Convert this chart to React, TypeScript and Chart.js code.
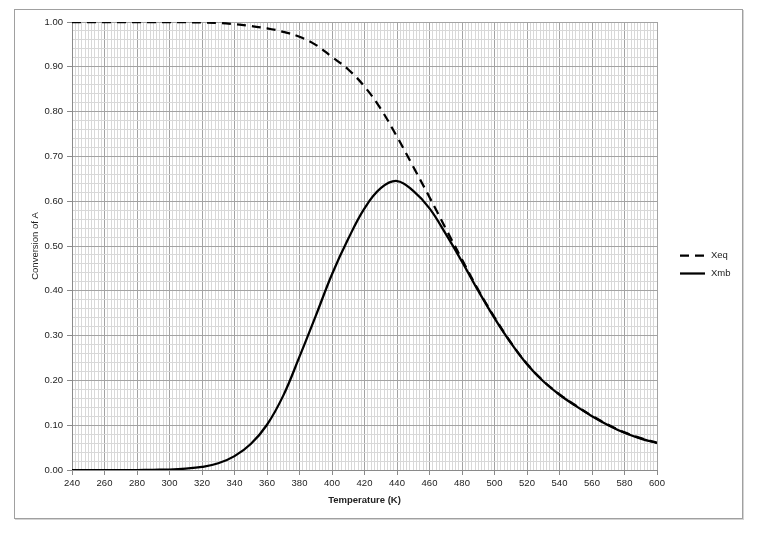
import React, { useEffect, useRef } from "react";
import { Chart, registerables } from "chart.js";

Chart.register(...registerables);

// ---- Data ----
const temperatures = [
  240, 250, 260, 270, 280, 290, 300, 310, 320, 330, 340, 350, 360, 370, 380, 390,
  400, 410, 420, 430, 440, 450, 460, 470, 480, 490, 500, 510, 520, 530, 540, 550,
  560, 570, 580, 590, 600,
];

const xeqValues = [
  1.0, 1.0, 1.0, 1.0, 1.0, 1.0, 1.0, 0.9995, 0.999, 0.998, 0.995, 0.991, 0.986, 0.978, 0.967, 0.949,
  0.922, 0.894, 0.856, 0.806, 0.744, 0.677, 0.609, 0.539, 0.47, 0.402, 0.341, 0.285, 0.237, 0.199, 0.169, 0.144,
  0.121, 0.101, 0.084, 0.071, 0.061,
];

const xmbValues = [
  0.0, 0.0, 0.0, 0.0, 0.0, 0.0005, 0.001, 0.003, 0.007, 0.015, 0.031, 0.058, 0.101, 0.166, 0.253, 0.344,
  0.437, 0.516, 0.584, 0.629, 0.645, 0.623, 0.584, 0.527, 0.465, 0.4, 0.339, 0.284, 0.236, 0.198, 0.168, 0.143,
  0.12, 0.1, 0.083, 0.07, 0.06,
];

const seriesLabels = ["Xeq", "Xmb"];

const xMin = 240;
const xMax = 600;
const xMinorStep = 2;
const xMajorStep = 20;
const yMin = 0;
const yMax = 1;
const yMinorStep = 0.02;
const yMajorStep = 0.1;

const FONT = '"Liberation Sans", Arial, sans-serif';
const TEXT = "#222222";
const MAJOR = "#a3a3a3";
const MINOR = "#d8d8d8";

const isMajorX = (v: number) => Math.abs(v / xMajorStep - Math.round(v / xMajorStep)) < 1e-6;
const isMajorY = (v: number) => Math.abs(v / yMajorStep - Math.round(v / yMajorStep)) < 1e-6;

const sideLegend = {
  id: "sideLegend",
  afterDraw(chart: any) {
    const { ctx, chartArea } = chart;
    const mid = (chartArea.top + chartArea.bottom) / 2;
    chart.data.datasets.forEach((ds: any, i: number) => {
      const y = Math.round(mid + 9 + 18 * i) + 0.5;
      const x0 = chartArea.right + 23;
      ctx.save();
      ctx.strokeStyle = ds.borderColor;
      ctx.lineWidth = ds.borderWidth;
      ctx.setLineDash(ds.borderDash || []);
      ctx.beginPath();
      ctx.moveTo(x0, y);
      ctx.lineTo(x0 + 25, y);
      ctx.stroke();
      ctx.setLineDash([]);
      ctx.fillStyle = TEXT;
      ctx.font = `9.5px ${FONT}`;
      ctx.textBaseline = "middle";
      ctx.textAlign = "left";
      ctx.fillText(ds.label, x0 + 31, y);
      ctx.restore();
    });
  },
};

export default function App() {
  const canvasRef = useRef<HTMLCanvasElement | null>(null);

  useEffect(() => {
    if (!canvasRef.current) return;
    const xeqData = temperatures.map((t, i) => ({ x: t, y: xeqValues[i] }));
    const xmbData = temperatures.map((t, i) => ({ x: t, y: xmbValues[i] }));

    const chart = new Chart(canvasRef.current, {
      type: "scatter",
      data: {
        datasets: [
          {
            label: seriesLabels[0],
            data: xeqData,
            showLine: true,
            borderColor: "#000000",
            backgroundColor: "#000000",
            borderWidth: 2.25,
            borderDash: [9, 6],
            pointRadius: 0,
            tension: 0.4,
          } as any,
          {
            label: seriesLabels[1],
            data: xmbData,
            showLine: true,
            borderColor: "#000000",
            backgroundColor: "#000000",
            borderWidth: 2.25,
            pointRadius: 0,
            tension: 0.4,
          } as any,
        ],
      },
      options: {
        animation: false,
        responsive: false,
        devicePixelRatio: 1,
        layout: { padding: { left: 15, top: 22, right: 100, bottom: 25 } },
        plugins: {
          legend: { display: false },
          tooltip: { enabled: false },
        },
        scales: {
          x: {
            type: "linear",
            min: xMin,
            max: xMax,
            afterFit: (scale: any) => {
              scale.height = 40;
            },
            ticks: {
              stepSize: xMinorStep,
              autoSkip: false,
              maxRotation: 0,
              minRotation: 0,
              padding: 3,
              color: TEXT,
              font: { family: FONT, size: 9.5 },
              callback: (v: any) => (isMajorX(Number(v)) ? String(Math.round(Number(v))) : ""),
            },
            grid: {
              color: (ctx: any) => (isMajorX(ctx.tick?.value ?? 0) ? MAJOR : MINOR),
              lineWidth: 1,
              drawTicks: true,
              tickLength: 5,
              tickColor: (ctx: any) => (isMajorX(ctx.tick?.value ?? 0) ? "#8a8a8a" : "rgba(0,0,0,0)"),
            },
            border: { display: true, color: "#8a8a8a" },
            title: {
              display: true,
              text: "Temperature (K)",
              color: TEXT,
              font: { family: FONT, size: 9.5, weight: "bold" },
              padding: { top: 0, bottom: 4 },
            },
          },
          y: {
            type: "linear",
            min: yMin,
            max: yMax,
            afterFit: (scale: any) => {
              scale.width = 57;
            },
            ticks: {
              stepSize: yMinorStep,
              autoSkip: false,
              padding: 4,
              color: TEXT,
              font: { family: FONT, size: 9.5 },
              callback: (v: any) => (isMajorY(Number(v)) ? Number(v).toFixed(2) : ""),
            },
            grid: {
              color: (ctx: any) => (isMajorY(ctx.tick?.value ?? 0) ? MAJOR : MINOR),
              lineWidth: 1,
              drawTicks: true,
              tickLength: 5,
              tickColor: (ctx: any) => (isMajorY(ctx.tick?.value ?? 0) ? "#8a8a8a" : "rgba(0,0,0,0)"),
            },
            border: { display: true, color: "#8a8a8a" },
            title: {
              display: true,
              text: "Conversion of A",
              color: TEXT,
              font: { family: FONT, size: 9.5 },
              padding: { top: 15, bottom: 0 },
            },
          },
        },
      } as any,
      plugins: [sideLegend],
    });

    return () => chart.destroy();
  }, []);

  return (
    <div
      style={{
        position: "fixed",
        left: 0,
        top: 0,
        width: 757,
        height: 535,
        background: "#ffffff",
      }}
    >
      <div
        style={{
          position: "absolute",
          left: 14,
          top: 9,
          width: 727,
          height: 508,
          border: "1px solid #a0a0a0",
          boxShadow: "1px 1px 0 #d4d4d4",
        }}
      />
      <canvas
        ref={canvasRef}
        width={757}
        height={535}
        style={{ position: "absolute", left: 0, top: 0, width: 757, height: 535 }}
      />
    </div>
  );
}
